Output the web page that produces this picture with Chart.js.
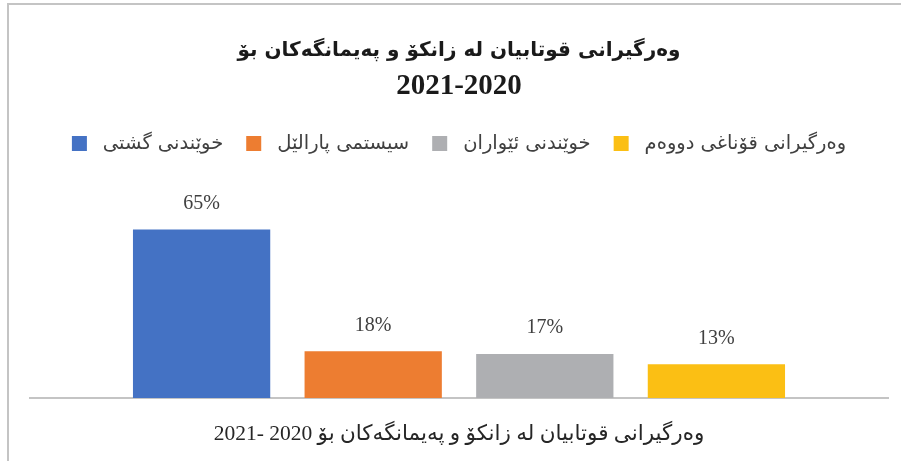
<!DOCTYPE html>
<html>
<head>
<meta charset="utf-8">
<script src="https://cdn.jsdelivr.net/npm/chart.js@4"></script>
<style>
  body { margin: 0; background: #fff; }
  .wrap { position: relative; width: 901px; height: 461px; overflow: hidden; }
  .frame {
    position: absolute; left: 7px; top: 3px; width: 2000px; height: 2000px;
    border-left: 2px solid #c4c4c4; border-top: 2px solid #c4c4c4; pointer-events: none;
  }
</style>
</head>
<body>
<div class="wrap">
  <canvas id="chart" width="901" height="461"></canvas>
  <div class="frame"></div>
</div>
<script>
const categories = ['2021- 2020 وەرگیرانی قوتابیان لە زانکۆ و پەیمانگەکان بۆ'];
const seriesNames = ['خوێندنی گشتی', 'سیستمی پارالێل', 'خوێندنی ئێواران', 'وەرگیرانی قۆناغی دووەم'];
const seriesValues = [65, 18, 17, 13];
const seriesColors = ['#4472C4', '#ED7D31', '#AEAFB2', '#FBBF14'];
const titleText = 'وەرگیرانی قوتابیان لە زانکۆ و پەیمانگەکان بۆ';
const subtitleText = '2021-2020';

const serif = "'Liberation Serif', 'DejaVu Sans', serif";

// percent labels above each bar
const barLabels = {
  id: 'barLabels',
  afterDatasetsDraw(chart) {
    const ctx = chart.ctx;
    ctx.save();
    ctx.font = '20px ' + serif;
    ctx.fillStyle = '#404040';
    ctx.textAlign = 'center';
    ctx.textBaseline = 'middle';
    chart.data.datasets.forEach((ds, i) => {
      const bar = chart.getDatasetMeta(i).data[0];
      ctx.fillText(ds.data[0] + '%', bar.x, bar.y - 26);
    });
    ctx.restore();
  }
};

new Chart(document.getElementById('chart'), {
  type: 'bar',
  data: {
    labels: categories,
    datasets: seriesNames.map((name, i) => ({
      label: ' ' + name,
      data: [seriesValues[i]],
      backgroundColor: seriesColors[i],
      categoryPercentage: 0.8,
      barPercentage: 0.8,
    })),
  },
  options: {
    responsive: false,
    animation: false,
    layout: { padding: { left: 30, right: 13, top: 0, bottom: 0 } },
    plugins: {
      title: {
        display: true,
        text: titleText,
        color: '#1a1a1a',
        font: { family: "'DejaVu Sans', sans-serif", size: 20, weight: 'bold', lineHeight: 1.2 },
        padding: { top: 39, bottom: 6 },
      },
      subtitle: {
        display: true,
        text: subtitleText,
        color: '#1a1a1a',
        font: { family: serif, size: 29, weight: 'bold', lineHeight: 1.2 },
        padding: { top: 0, bottom: 7 },
      },
      legend: {
        position: 'top',
        labels: {
          boxWidth: 15,
          boxHeight: 15,
          padding: 23,
          color: '#404040',
          font: { family: "'DejaVu Sans', sans-serif", size: 19.5 },
        },
      },
      tooltip: { enabled: false },
    },
    scales: {
      x: {
        grid: { display: false, drawTicks: false },
        border: { display: true, color: '#c4c4c4', width: 2 },
        ticks: { color: '#262626', padding: 23, font: { family: serif, size: 21.5 } },
        afterFit(scale) { scale.height = 63; },
      },
      y: {
        display: false,
        min: 0,
        max: 90.5,
      },
    },
  },
  plugins: [barLabels],
});
</script>
</body>
</html>
